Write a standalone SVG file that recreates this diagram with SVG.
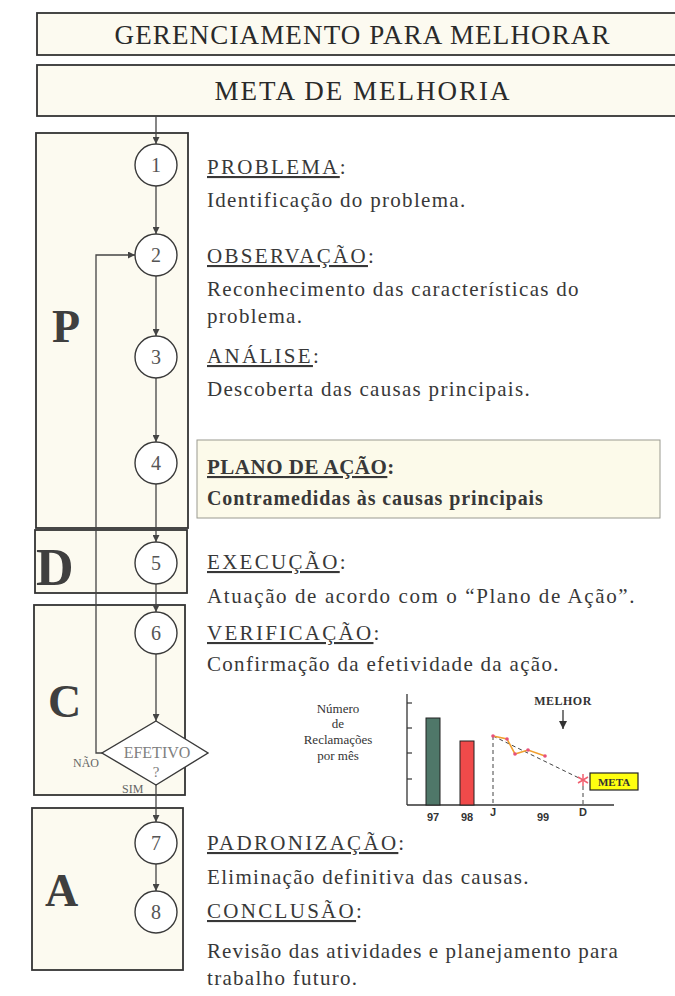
<svg xmlns="http://www.w3.org/2000/svg" width="675" height="996" viewBox="0 0 675 996">
<defs>
<marker id="ah" viewBox="0 0 10 10" refX="10" refY="5" markerWidth="7" markerHeight="7" markerUnits="userSpaceOnUse" orient="auto">
<path d="M0,0 L10,5 L0,10 z" fill="#444"/>
</marker>
<marker id="ahs" viewBox="0 0 10 10" refX="10" refY="5" markerWidth="8" markerHeight="8" markerUnits="userSpaceOnUse" orient="auto">
<path d="M0,0 L10,5 L0,10 z" fill="#333"/>
</marker>
</defs>
<style>
.box{fill:#fcfaf0;stroke:#333;stroke-width:1.8}
.node{fill:#fff;stroke:#3a3a3a;stroke-width:1.4}
.num{font-family:"Liberation Serif",serif;font-size:20px;fill:#555;text-anchor:middle}
.phase{font-family:"Liberation Serif",serif;font-size:46px;font-weight:bold;fill:#3f3f3f}
.tx{font-family:"Liberation Serif",serif;font-size:21px;fill:#383838;letter-spacing:1.3px}
.h{font-family:"Liberation Serif",serif;font-size:21px;fill:#383838;letter-spacing:2.3px}
.u{text-decoration:underline}
.bd{font-weight:bold}
.title{font-family:"Liberation Serif",serif;font-size:27px;fill:#2a2a2a;text-anchor:middle}
.conn{fill:none;stroke:#444;stroke-width:1.3}
.small{font-family:"Liberation Serif",serif;font-size:12px;fill:#666}
.ch{font-family:"Liberation Serif",serif;font-size:13px;fill:#333;text-anchor:middle}
.ax{font-family:"Liberation Sans",sans-serif;font-size:11px;font-weight:bold;fill:#333;text-anchor:middle}
</style>
<rect width="675" height="996" fill="#ffffff"/>

<g id="header-gerenciamento">
<rect class="box" x="37" y="13" width="650" height="42"/>
<text class="title" x="362" y="44" textLength="495" lengthAdjust="spacing">GERENCIAMENTO  PARA  MELHORAR</text>
</g>
<g id="header-meta">
<rect class="box" x="37" y="65" width="650" height="51"/>
<text class="title" x="362" y="100" textLength="295" lengthAdjust="spacing">META  DE  MELHORIA</text>
</g>

<g id="phase-P">
<rect class="box" x="36" y="133" width="152" height="395"/>
<text class="phase" x="52" y="342">P</text>
</g>
<g id="phase-D">
<rect class="box" x="35" y="530" width="152" height="63"/>
<text class="phase" x="36" y="585" style="font-size:52px">D</text>
</g>
<g id="phase-C">
<rect class="box" x="34" y="605" width="151" height="190"/>
<text class="phase" x="48" y="717">C</text>
</g>
<g id="phase-A">
<rect class="box" x="32" y="808" width="151" height="162"/>
<text class="phase" x="45" y="906">A</text>
</g>

<g id="plan-box">
<rect x="197" y="440" width="463" height="78" fill="#fcfaea" stroke="#9a9a90" stroke-width="1"/>
</g>

<g id="connectors">
<line class="conn" x1="156" y1="116" x2="156" y2="144" marker-end="url(#ah)"/>
<line class="conn" x1="156" y1="186" x2="156" y2="234" marker-end="url(#ah)"/>
<line class="conn" x1="156" y1="276" x2="156" y2="336" marker-end="url(#ah)"/>
<line class="conn" x1="156" y1="378" x2="156" y2="442" marker-end="url(#ah)"/>
<line class="conn" x1="156" y1="484" x2="156" y2="542" marker-end="url(#ah)"/>
<line class="conn" x1="156" y1="584" x2="156" y2="612" marker-end="url(#ah)"/>
<line class="conn" x1="156" y1="654" x2="156" y2="721" marker-end="url(#ah)"/>
<line class="conn" x1="156" y1="785" x2="156" y2="822" marker-end="url(#ah)"/>
<line class="conn" x1="156" y1="864" x2="156" y2="891" marker-end="url(#ah)"/>
<polyline class="conn" points="102,753 96,753 96,255 135,255" marker-end="url(#ah)"/>
</g>

<g id="n1"><circle class="node" cx="156" cy="165" r="21"/><text class="num" x="156" y="172">1</text></g>
<g id="n2"><circle class="node" cx="156" cy="255" r="21"/><text class="num" x="156" y="262">2</text></g>
<g id="n3"><circle class="node" cx="156" cy="357" r="21"/><text class="num" x="156" y="364">3</text></g>
<g id="n4"><circle class="node" cx="156" cy="463" r="21"/><text class="num" x="156" y="470">4</text></g>
<g id="n5"><circle class="node" cx="156" cy="563" r="21"/><text class="num" x="156" y="570">5</text></g>
<g id="n6"><circle class="node" cx="156" cy="633" r="21"/><text class="num" x="156" y="640">6</text></g>
<g id="decision">
<polygon class="node" points="156,721 208,753 156,785 102,753"/>
<text class="small" x="157" y="758" text-anchor="middle" style="font-size:16px;fill:#808080">EFETIVO</text>
<text class="small" x="156" y="777" text-anchor="middle" style="font-size:15px;fill:#808080">?</text>
<text class="small" x="73" y="767">NÃO</text>
<text class="small" x="122" y="793">SIM</text>
</g>
<g id="n7"><circle class="node" cx="156" cy="843" r="21"/><text class="num" x="156" y="850">7</text></g>
<g id="n8"><circle class="node" cx="156" cy="912" r="21"/><text class="num" x="156" y="919">8</text></g>

<g id="texts">
<text class="h" x="207" y="174"><tspan class="u">PROBLEMA</tspan>:</text>
<text class="tx" x="207" y="207">Identificação do problema.</text>
<text class="h" x="207" y="263"><tspan class="u">OBSERVAÇÃO</tspan>:</text>
<text class="tx" x="207" y="296">Reconhecimento das características do</text>
<text class="tx" x="207" y="323">problema.</text>
<text class="h" x="207" y="363"><tspan class="u">ANÁLISE</tspan>:</text>
<text class="tx" x="207" y="396">Descoberta das causas principais.</text>
<text class="tx bd" x="207" y="474" style="letter-spacing:0.5px"><tspan class="u">PLANO DE AÇÃO</tspan>:</text>
<text class="tx bd" x="207" y="505" style="font-size:20px;letter-spacing:0.9px">Contramedidas às causas principais</text>
<text class="h" x="207" y="569"><tspan class="u">EXECUÇÃO</tspan>:</text>
<text class="tx" x="207" y="603" style="letter-spacing:1.6px">Atuação de acordo com o “Plano de Ação”.</text>
<text class="h" x="207" y="640"><tspan class="u">VERIFICAÇÃO</tspan>:</text>
<text class="tx" x="207" y="671">Confirmação da efetividade da ação.</text>
<text class="h" x="207" y="850"><tspan class="u">PADRONIZAÇÃO</tspan>:</text>
<text class="tx" x="207" y="884">Eliminação definitiva das causas.</text>
<text class="h" x="207" y="918"><tspan class="u">CONCLUSÃO</tspan>:</text>
<text class="tx" x="207" y="958" style="letter-spacing:1.1px">Revisão das atividades e planejamento para</text>
<text class="tx" x="207" y="985">trabalho futuro.</text>
</g>

<g id="chart">
<text class="ch" x="338" y="713">Número</text>
<text class="ch" x="338" y="728">de</text>
<text class="ch" x="338" y="744">Reclamações</text>
<text class="ch" x="338" y="760">por mês</text>
<line x1="407" y1="694" x2="407" y2="805" stroke="#333" stroke-width="1.3"/>
<line x1="407" y1="805" x2="614" y2="805" stroke="#333" stroke-width="1.3"/>
<line x1="407" y1="703" x2="412" y2="703" stroke="#333" stroke-width="1.2"/>
<line x1="407" y1="728" x2="412" y2="728" stroke="#333" stroke-width="1.2"/>
<line x1="407" y1="753" x2="412" y2="753" stroke="#333" stroke-width="1.2"/>
<line x1="407" y1="779" x2="412" y2="779" stroke="#333" stroke-width="1.2"/>
<rect x="426" y="718" width="14" height="87" fill="#4f7769" stroke="#222" stroke-width="1"/>
<rect x="460" y="741" width="14" height="64" fill="#f04a4a" stroke="#222" stroke-width="1"/>
<line x1="493" y1="736" x2="493" y2="805" stroke="#444" stroke-width="1" stroke-dasharray="4,3"/>
<line x1="583" y1="786" x2="583" y2="805" stroke="#444" stroke-width="1" stroke-dasharray="4,3"/>
<line x1="493" y1="736" x2="581" y2="779" stroke="#444" stroke-width="1" stroke-dasharray="4,3"/>
<polyline points="493,736 507,739 515,754 528,750 545,756" fill="none" stroke="#f0a030" stroke-width="1.6"/>
<g fill="#e8507a">
<circle cx="493" cy="736" r="1.8"/><circle cx="507" cy="739" r="1.8"/><circle cx="515" cy="754" r="1.8"/><circle cx="528" cy="750" r="1.8"/><circle cx="545" cy="756" r="1.8"/>
</g>
<g stroke="#f06070" stroke-width="1.5">
<line x1="583" y1="774" x2="583" y2="786"/>
<line x1="578" y1="777" x2="588" y2="783"/>
<line x1="578" y1="783" x2="588" y2="777"/>
</g>
<rect x="590" y="773" width="48" height="17" fill="#ffff10" stroke="#222" stroke-width="1.2"/>
<text class="ch" x="614" y="786" style="font-size:11px;font-weight:bold">META</text>
<text class="ch" x="563" y="705" style="font-size:12px;font-weight:bold;letter-spacing:0.5px">MELHOR</text>
<line x1="563" y1="710" x2="563" y2="729" stroke="#333" stroke-width="1.3" marker-end="url(#ahs)"/>
<text class="ax" x="433" y="821">97</text>
<text class="ax" x="467" y="821">98</text>
<text class="ax" x="493" y="816">J</text>
<text class="ax" x="543" y="821">99</text>
<text class="ax" x="583" y="816">D</text>
</g>
</svg>
